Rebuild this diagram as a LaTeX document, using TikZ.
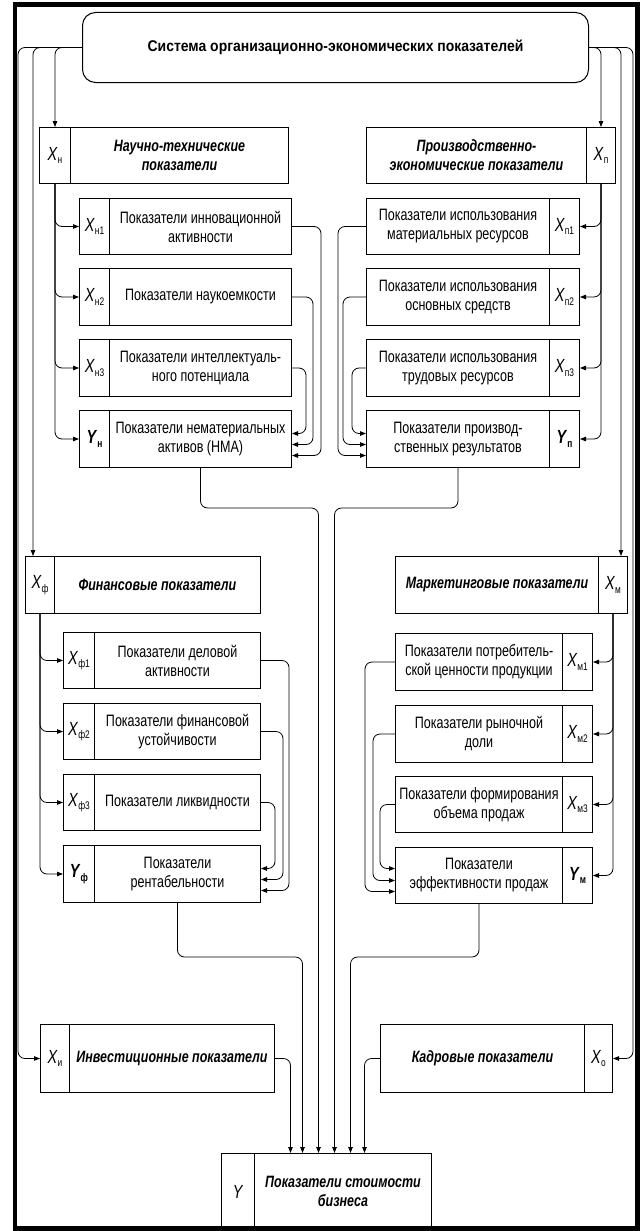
\documentclass[tikz,border=0pt]{standalone}
\usepackage{fontspec}
\setmainfont{Liberation Sans}[FakeStretch=0.76]
\newfontfamily\titlefont{Liberation Sans}[FakeStretch=0.9]
\usetikzlibrary{arrows.meta}
\newcommand\Xs[1]{\textit{X}\raisebox{-0.2em}{\fontsize{11}{11}\selectfont #1}}
\newcommand\Ys[1]{\textbf{\textit{Y}\raisebox{-0.2em}{\fontsize{11}{11}\selectfont #1}}}
\tikzset{
  bx/.style={draw, line width=1pt, inner sep=0pt, anchor=north west, align=center},
  sub/.style={bx, font=\fontsize{16.5}{19}\selectfont},
  head/.style={bx, font=\fontsize{16.4}{19}\selectfont\bfseries\itshape},
  lab/.style={bx, font=\fontsize{19}{20}\selectfont},
  conn/.style={line width=0.8pt, rounded corners=7pt},
  arr/.style={conn, -{Triangle[length=6pt,width=4.5pt]}},
}
\begin{document}
\begin{tikzpicture}[x=1pt,y=-1pt]
\useasboundingbox (0,0) rectangle (640,1231);
\draw[line width=4.5pt] (15,4.5) rectangle (637.5,1228.5);

% title
\node[bx, rounded corners=13pt, minimum width=506pt, minimum height=70pt,
      font=\titlefont\fontsize{15.5}{18}\selectfont\bfseries] (sys) at (82,12)
      {Система организационно-экономических показателей};

% ---------- scientific-technical ----------
\node[lab, minimum width=31pt, minimum height=56pt] (xnL) at (39,127) {\Xs{н}};
\node[head, minimum width=218pt, minimum height=56pt] (xnT) at (70,127) {Научно-технические\\показатели};
\node[lab, minimum width=30pt, minimum height=56pt] (xn1L) at (79,198) {\Xs{н1}};
\node[sub, minimum width=182pt, minimum height=56pt] (xn1T) at (109,198) {Показатели инновационной\\активности};
\node[lab, minimum width=30pt, minimum height=57pt] (xn2L) at (79,268) {\Xs{н2}};
\node[sub, minimum width=182pt, minimum height=57pt] (xn2T) at (109,268) {Показатели наукоемкости};
\node[lab, minimum width=30pt, minimum height=57pt] (xn3L) at (79,339) {\Xs{н3}};
\node[sub, minimum width=182pt, minimum height=57pt] (xn3T) at (109,339) {Показатели интеллектуаль-\\ного потенциала};
\node[lab, minimum width=30pt, minimum height=57pt] (ynL) at (79,410) {\Ys{н}};
\node[sub, minimum width=182pt, minimum height=57pt] (ynT) at (109,410) {Показатели нематериальных\\активов (НМА)};

% ---------- production-economic ----------
\node[head, minimum width=220pt, minimum height=56pt] (xpT) at (366,127) {Производственно-\\экономические показатели};
\node[lab, minimum width=29pt, minimum height=56pt] (xpL) at (586,127) {\Xs{п}};
\node[sub, minimum width=183pt, minimum height=56pt] (xp1T) at (366,198) {Показатели использования\\материальных ресурсов};
\node[lab, minimum width=30pt, minimum height=56pt] (xp1L) at (549,198) {\Xs{п1}};
\node[sub, minimum width=183pt, minimum height=57pt] (xp2T) at (366,268) {Показатели использования\\основных средств};
\node[lab, minimum width=30pt, minimum height=57pt] (xp2L) at (549,268) {\Xs{п2}};
\node[sub, minimum width=183pt, minimum height=57pt] (xp3T) at (366,339) {Показатели использования\\трудовых ресурсов};
\node[lab, minimum width=30pt, minimum height=57pt] (xp3L) at (549,339) {\Xs{п3}};
\node[sub, minimum width=183pt, minimum height=57pt] (ypT) at (366,410) {Показатели производ-\\ственных результатов};
\node[lab, minimum width=30pt, minimum height=57pt] (ypL) at (549,410) {\Ys{п}};

% ---------- financial ----------
\node[lab, minimum width=29pt, minimum height=57pt] (xfL) at (25,556) {\Xs{ф}};
\node[head, minimum width=206pt, minimum height=57pt] (xfT) at (54,556) {Финансовые показатели};
\node[lab, minimum width=31pt, minimum height=56pt] (xf1L) at (63,632) {\Xs{ф1}};
\node[sub, minimum width=166pt, minimum height=56pt] (xf1T) at (94,632) {Показатели деловой\\активности};
\node[lab, minimum width=31pt, minimum height=56pt] (xf2L) at (63,703) {\Xs{ф2}};
\node[sub, minimum width=166pt, minimum height=56pt] (xf2T) at (94,703) {Показатели финансовой\\устойчивости};
\node[lab, minimum width=31pt, minimum height=56pt] (xf3L) at (63,774) {\Xs{ф3}};
\node[sub, minimum width=166pt, minimum height=56pt] (xf3T) at (94,774) {Показатели ликвидности};
\node[lab, minimum width=31pt, minimum height=57pt] (yfL) at (63,845) {\Ys{ф}};
\node[sub, minimum width=166pt, minimum height=57pt] (yfT) at (94,845) {Показатели\\рентабельности};

% ---------- marketing ----------
\node[head, minimum width=203pt, minimum height=57pt] (xmT) at (395,556) {Маркетинговые показатели};
\node[lab, minimum width=29pt, minimum height=57pt] (xmL) at (598,556) {\Xs{м}};
\node[sub, minimum width=167pt, minimum height=57pt] (xm1T) at (395,633) {Показатели потребитель-\\ской ценности продукции};
\node[lab, minimum width=30pt, minimum height=57pt] (xm1L) at (562,633) {\Xs{м1}};
\node[sub, minimum width=167pt, minimum height=57pt] (xm2T) at (395,705) {Показатели рыночной\\доли};
\node[lab, minimum width=30pt, minimum height=57pt] (xm2L) at (562,705) {\Xs{м2}};
\node[sub, minimum width=167pt, minimum height=56pt] (xm3T) at (395,776) {Показатели формирования\\объема продаж};
\node[lab, minimum width=30pt, minimum height=56pt] (xm3L) at (562,776) {\Xs{м3}};
\node[sub, minimum width=167pt, minimum height=56pt] (ymT) at (395,847) {Показатели\\эффективности продаж};
\node[lab, minimum width=30pt, minimum height=56pt] (ymL) at (562,847) {\Ys{м}};

% ---------- investment / personnel ----------
\node[lab, minimum width=29pt, minimum height=68pt] (xiL) at (40,1024) {\Xs{и}};
\node[head, minimum width=205pt, minimum height=68pt] (xiT) at (69,1024) {Инвестиционные показатели};
\node[head, minimum width=204pt, minimum height=68pt] (xoT) at (380,1024) {Кадровые показатели};
\node[lab, minimum width=28pt, minimum height=68pt] (xoL) at (584,1024) {\Xs{о}};

% ---------- result ----------
\node[lab, minimum width=33pt, minimum height=76pt] (yL) at (221,1153) {\textit{Y}};
\node[head, minimum width=177pt, minimum height=76pt] (yT) at (254,1153) {Показатели стоимости\\бизнеса};

% ---------- connectors from title ----------
\draw[arr] (sys.west) -| (xnL.north);
\draw[arr] (sys.west) -| ([xshift=8pt]xfL.north west);
\draw[arr] (sys.west) -| ([xshift=-22pt]xiL.west) -- (xiL.west);
\draw[arr] (sys.east) -| (xpL.north);
\draw[arr] (sys.east) -| ([xshift=-7pt]xmL.north east);
\draw[arr] (sys.east) -| ([xshift=20pt]xoL.east) -- (xoL.east);

% ---------- branches ----------
\foreach \t in {xn1L,xn2L,xn3L,ynL} \draw[arr] (xnL.south) |- (\t.west);
\foreach \t in {xp1L,xp2L,xp3L,ypL} \draw[arr] (xpL.south) |- (\t.east);
\foreach \t in {xf1L,xf2L,xf3L,yfL} \draw[arr] (xfL.south) |- (\t.west);
\foreach \t in {xm1L,xm2L,xm3L,ymL} \draw[arr] (xmL.south) |- (\t.east);

% ---------- returns ----------
\draw[arr] (xn1T.east) -- ++(29,0) |- ([yshift=-16.5pt]ynT.east);
\draw[arr] (xn2T.east) -- ++(21,0) |- ([yshift=-5.5pt]ynT.east);
\draw[arr] (xn3T.east) -- ++(14,0) |- ([yshift=5.5pt]ynT.east);

\draw[arr] (xp1T.west) -- ++(-28,0) |- ([yshift=-16.5pt]ypT.west);
\draw[arr] (xp2T.west) -- ++(-23,0) |- ([yshift=-5.5pt]ypT.west);
\draw[arr] (xp3T.west) -- ++(-14,0) |- ([yshift=5.5pt]ypT.west);

\draw[arr] (xf1T.east) -- ++(28,0) |- ([yshift=-16.5pt]yfT.east);
\draw[arr] (xf2T.east) -- ++(22,0) |- ([yshift=-5.5pt]yfT.east);
\draw[arr] (xf3T.east) -- ++(14,0) |- ([yshift=5.5pt]yfT.east);

\draw[arr] (xm1T.west) -- ++(-30,0) |- ([yshift=-16pt]ymT.west);
\draw[arr] (xm2T.west) -- ++(-22,0) |- ([yshift=-5pt]ymT.west);
\draw[arr] (xm3T.west) -- ++(-15,0) |- ([yshift=7pt]ymT.west);

% ---------- outputs ----------
\draw[arr] (ynT.south) -- ++(0,40) -| ([xshift=-24.5pt]yT.north);
\draw[arr] (ypT.south) -- ++(0,40) -| ([xshift=-8.5pt]yT.north);
\draw[arr] (yfT.south) -- ++(0,54) -| ([xshift=-40.5pt]yT.north);
\draw[arr] (ymT.south) -- ++(0,53) -| ([xshift=7.5pt]yT.north);
\draw[arr] (xiT.east) -| ([xshift=-52.5pt]yT.north);
\draw[arr] (xoT.west) -| ([xshift=21.5pt]yT.north);
\end{tikzpicture}
\end{document}
